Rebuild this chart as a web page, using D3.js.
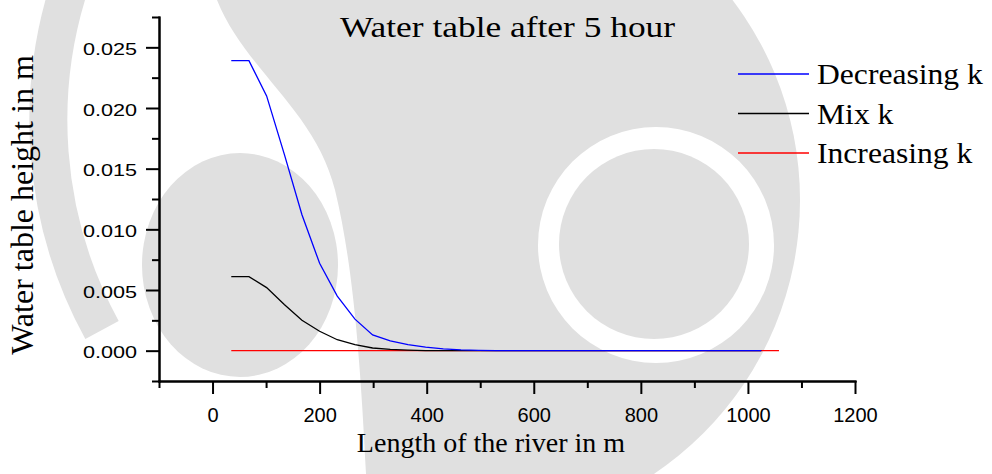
<!DOCTYPE html>
<html>
<head>
<meta charset="utf-8">
<script src="https://cdn.jsdelivr.net/npm/d3@7"></script>
<style>
  html, body { margin: 0; padding: 0; background: #ffffff; }
  svg { display: block; }
</style>
</head>
<body>
<svg id="chart" width="992" height="474"></svg>
<script>
// Distance along the river (m) at which the water table was computed
const distance = [35, 68, 101, 134, 167, 200, 233, 266, 299, 332, 365, 398, 431, 464, 497,
  530, 563, 596, 629, 662, 695, 728, 761, 794, 827, 860, 893, 926, 959, 992, 1025];
const distanceIncreasing = [35, 68, 101, 134, 167, 200, 233, 266, 299, 332, 365, 398, 431, 464, 497,
  530, 563, 596, 629, 662, 695, 728, 761, 794, 827, 860, 893, 926, 959, 992, 1025, 1058];

// Water table height (m) after 5 hours
const decreasingK = [0.0239, 0.0239, 0.0210, 0.0162, 0.0112, 0.0072, 0.0045, 0.0026, 0.0013, 0.0008,
  0.0005, 0.0003, 0.00015, 0.00006, 0.00002, 0, 0, 0, 0, 0, 0, 0, 0, 0, 0, 0, 0, 0, 0, 0, 0];
const mixK = [0.0061, 0.0061, 0.0052, 0.0038, 0.0025, 0.0016, 0.0009, 0.0005, 0.00022, 0.0001,
  0.00004, 0.00001, 0, 0, 0, 0, 0, 0, 0, 0, 0, 0, 0, 0, 0, 0, 0, 0, 0, 0, 0];
const increasingK = [0, 0, 0, 0, 0, 0, 0, 0, 0, 0, 0, 0, 0, 0, 0, 0,
  0, 0, 0, 0, 0, 0, 0, 0, 0, 0, 0, 0, 0, 0, 0, 0];

const seriesNames = ["Decreasing k", "Mix k", "Increasing k"];
const seriesColors = ["#0000ff", "#000000", "#ff0000"];

const xTicks = [0, 200, 400, 600, 800, 1000, 1200];
const xMinorTicks = [-100, 100, 300, 500, 700, 900, 1100];
const yTicks = [0, 0.005, 0.010, 0.015, 0.020, 0.025];
const yMinorTicks = [-0.0025, 0.0025, 0.0075, 0.0125, 0.0175, 0.0225, 0.0275];

const titleText = "Water table after 5 hour";
const xTitle = "Length of the river in m";
const yTitle = "Water table height in m";

const svg = d3.select("#chart");
const serif = "'Liberation Serif', 'Times New Roman', serif";
const sans = "'Liberation Sans', Arial, sans-serif";

// ---- faint emblem in the background ----
const wm = svg.append("g").attr("fill", "#e0e0e0").attr("stroke", "none");
wm.append("ellipse").attr("cx", 470).attr("cy", 200).attr("rx", 330).attr("ry", 330);
wm.append("path").attr("fill", "#ffffff")
  .attr("d", "M0,0 L217,0 C245,70 315,110 335,190 C352,260 360,350 366,474 L0,474 Z");
wm.append("ellipse").attr("cx", 240).attr("cy", 265).attr("rx", 98).attr("ry", 112);
wm.append("circle").attr("cx", 656).attr("cy", 245).attr("r", 118).attr("fill", "#ffffff");
wm.append("circle").attr("cx", 654).attr("cy", 244).attr("r", 95);
wm.append("path")
  .attr("d", "M75,-30 A437,437 0 0 0 102,330")
  .attr("fill", "none").attr("stroke", "#e0e0e0").attr("stroke-width", 38);

// ---- scales ----
const x = d3.scaleLinear().domain([-100, 1200]).range([159, 855]);
const y = d3.scaleLinear().domain([-0.0025, 0.0275]).range([381, 17]);
const x0 = x.range()[0], y0 = y.range()[0];

// ---- axes ----
function styleAxis(g) {
  g.selectAll("path.domain").attr("stroke", "#000").attr("stroke-width", 2);
  g.selectAll(".tick line").attr("stroke", "#000").attr("stroke-width", 2);
}

svg.append("g").attr("transform", `translate(${x0},0)`)
  .call(d3.axisLeft(y).tickValues(yMinorTicks).tickSize(7).tickSizeOuter(0).tickFormat(""))
  .call(styleAxis);
const gy = svg.append("g").attr("transform", `translate(${x0},0)`)
  .call(d3.axisLeft(y).tickValues(yTicks).tickSize(13).tickSizeOuter(0).tickFormat(d3.format(".3f")))
  .call(styleAxis);
gy.selectAll(".tick text")
  .attr("x", 0).attr("dy", "0.36em")
  .attr("transform", "translate(-22,1) scale(1.27,1)")
  .attr("font-family", sans).attr("font-size", 17).attr("fill", "#000")
  .attr("text-anchor", "end");

svg.append("g").attr("transform", `translate(0,${y0})`)
  .call(d3.axisBottom(x).tickValues(xMinorTicks).tickSize(7).tickSizeOuter(0).tickFormat(""))
  .call(styleAxis);
const gx = svg.append("g").attr("transform", `translate(0,${y0})`)
  .call(d3.axisBottom(x).tickValues(xTicks).tickSize(13).tickSizeOuter(0).tickFormat(d3.format("d")))
  .call(styleAxis);
gx.selectAll(".tick text")
  .attr("y", 41).attr("dy", 0)
  .attr("font-family", sans).attr("font-size", 20).attr("fill", "#000");
svg.selectAll("path.domain").attr("stroke-linecap", "square");

// ---- lines ----
const series = [
  { name: seriesNames[2], color: seriesColors[2], xs: distanceIncreasing, ys: increasingK },
  { name: seriesNames[1], color: seriesColors[1], xs: distance, ys: mixK },
  { name: seriesNames[0], color: seriesColors[0], xs: distance, ys: decreasingK }
];
const line = d3.line().x(d => x(d[0])).y(d => y(d[1]));
series.forEach(s => {
  svg.append("path")
    .datum(s.xs.map((v, i) => [v, s.ys[i]]))
    .attr("fill", "none").attr("stroke", s.color).attr("stroke-width", 1.3)
    .attr("d", line);
});

// ---- titles ----
svg.append("text")
  .attr("transform", "translate(340,37) scale(1.18,1)")
  .attr("font-family", serif).attr("font-size", 30).attr("fill", "#000")
  .text(titleText);

svg.append("text")
  .attr("x", 491).attr("y", 452).attr("text-anchor", "middle")
  .attr("font-family", serif).attr("font-size", 28).attr("fill", "#000")
  .text(xTitle);

svg.append("text")
  .attr("transform", "translate(33,205) rotate(-90)")
  .attr("text-anchor", "middle")
  .attr("font-family", serif).attr("font-size", 32).attr("fill", "#000")
  .text(yTitle);

// ---- legend ----
const legend = svg.append("g").attr("transform", "translate(738,74)");
seriesNames.forEach((name, i) => {
  const row = legend.append("g").attr("transform", `translate(0,${i * 39.5})`);
  row.append("line").attr("x1", 0).attr("x2", 71).attr("y1", 0).attr("y2", 0)
    .attr("stroke", seriesColors[i]).attr("stroke-width", 1.3);
  row.append("text")
    .attr("transform", "translate(79,10) scale(1.09,1)")
    .attr("font-family", serif).attr("font-size", 29).attr("fill", "#000")
    .text(name);
});
</script>
</body>
</html>
